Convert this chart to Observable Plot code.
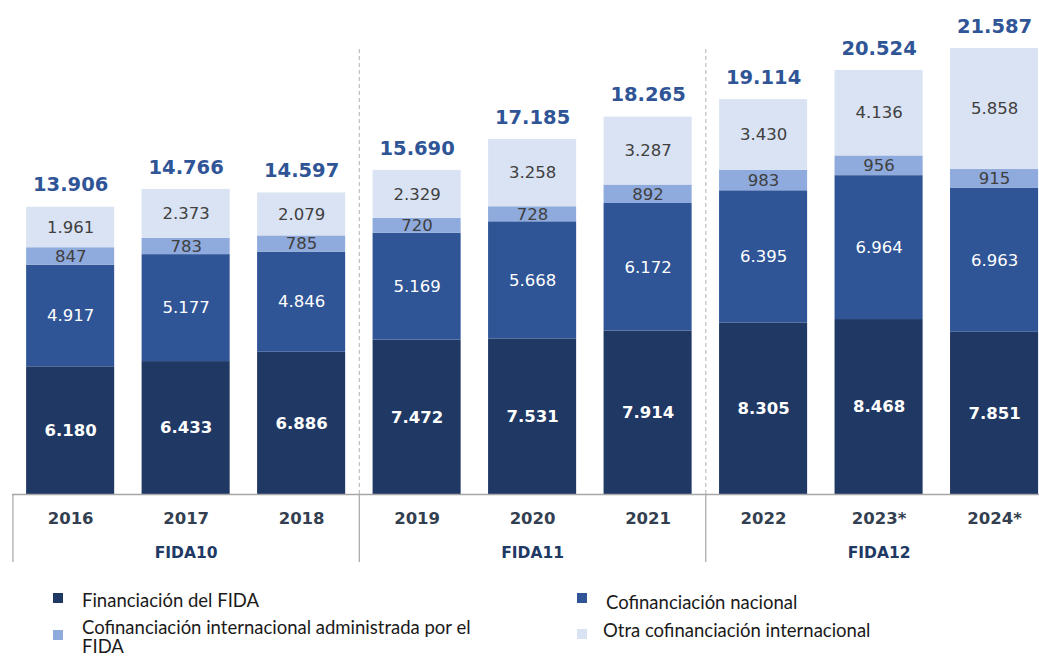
<!DOCTYPE html>
<html>
<head>
<meta charset="utf-8">
<script src="https://cdn.jsdelivr.net/npm/d3@7"></script>
<script src="https://cdn.jsdelivr.net/npm/@observablehq/plot@0.6"></script>
<style>
  html, body { margin: 0; padding: 0; background: #fff; }
  #chart svg { display: block; }
  .legend { position: relative; width: 1039px; height: 80px; font-family: Lato, "Open Sans", sans-serif; font-size: 18.5px; color: #1a1a1a; }
  .legend .sw { position: absolute; width: 10px; height: 10px; }
  .legend .lb { position: absolute; }
</style>
</head>
<body>
<div id="chart"></div>
<div class="legend" id="legend"></div>
<script>
const years = ["2016", "2017", "2018", "2019", "2020", "2021", "2022", "2023*", "2024*"];
const series = ["Financiación del FIDA", "Cofinanciación nacional", "Cofinanciación internacional administrada por el FIDA", "Otra cofinanciación internacional"];
const colors = ["#203864", "#2F5597", "#8FAADC", "#DAE3F3"];
const fidaValues = [6180, 6433, 6886, 7472, 7531, 7914, 8305, 8468, 7851];
const nacionalValues = [4917, 5177, 4846, 5169, 5668, 6172, 6395, 6964, 6963];
const intlAdminValues = [847, 783, 785, 720, 728, 892, 983, 956, 915];
const otraValues = [1961, 2373, 2079, 2329, 3258, 3287, 3430, 4136, 5858];
const totals = [13906, 14766, 14597, 15690, 17185, 18265, 19114, 20524, 21587];
const groups = ["FIDA10", "FIDA11", "FIDA12"];
const groupCenters = ["2017", "2020", "2023*"];
const groupEnds = ["2018", "2021"];

const allValues = [fidaValues, nacionalValues, intlAdminValues, otraValues];
const data = [];
series.forEach((s, si) => years.forEach((y, yi) => data.push({year: y, series: s, value: allValues[si][yi]})));
const totalData = years.map((y, i) => ({year: y, total: totals[i]}));
const groupData = groups.map((g, i) => ({group: g, year: groupCenters[i]}));

const fmt = n => n >= 1000 ? Math.floor(n / 1000) + "." + String(n % 1000).padStart(3, "0") : String(n);
const numFont = "DejaVu Sans, Verdana, sans-serif";
const yMax = d3.max(totals);
const below = -yMax * 68 / 446;

function segText(si, fill, weight) {
  return Plot.text(data, Plot.stackY({
    x: "year", y: "value", z: "series", order: series,
    text: d => d.series === series[si] ? fmt(d.value) : "",
    fill, fontWeight: weight, fontSize: 16.5, fontFamily: numFont
  }));
}

const chart = Plot.plot({
  width: 1039,
  height: 576,
  marginTop: 48,
  marginBottom: 82,
  marginLeft: 12,
  marginRight: 0,
  x: {domain: years, paddingInner: 0.2375, paddingOuter: 0.065, align: 0.94, round: false, axis: null},
  y: {domain: [0, yMax], axis: null},
  color: {domain: series, range: colors},
  marks: [
    Plot.ruleX(groupEnds, {x: d => d, y1: 0, y2: yMax, dx: 57.7, stroke: "#BFBFBF", strokeDasharray: "4,3", strokeWidth: 1.2}),
    Plot.barY(data, Plot.stackY({x: "year", y: "value", fill: "series", order: series})),
    Plot.ruleY([0], {stroke: "#A6A6A6", strokeWidth: 1.5}),
    Plot.ruleX(groupEnds, {x: d => d, y1: 0, y2: below, dx: 57.7, stroke: "#A6A6A6", strokeWidth: 1.2}),
    Plot.ruleX([years[0]], {x: d => d, y1: 0, y2: below, dx: -57.7, stroke: "#A6A6A6", strokeWidth: 1.2}),
    segText(0, "white", "bold"),
    segText(1, "white", "normal"),
    segText(2, "#404040", "normal"),
    segText(3, "#404040", "normal"),
    Plot.text(totalData, {x: "year", y: "total", text: d => fmt(d.total), dy: -22, fill: "#2F5597", fontWeight: "bold", fontSize: 19.5, fontFamily: numFont}),
    Plot.text(years, {x: d => d, y: 0, dy: 24, text: d => d, fill: "#333F50", fontWeight: "bold", fontSize: 16.5, fontFamily: numFont}),
    Plot.text(groupData, {x: "year", y: 0, dy: 59, text: "group", fill: "#203864", fontWeight: "bold", fontSize: 15.5, fontFamily: numFont})
  ]
});
document.getElementById("chart").appendChild(chart);

const legendItems = [
  {si: 0, sx: 53, sy: 17, tx: 82, ty: 13, w: 425, lh: 22},
  {si: 2, sx: 53, sy: 54, tx: 82, ty: 41.5, w: 425, lh: 19},
  {si: 1, sx: 577, sy: 17, tx: 606, ty: 15, w: 430, lh: 22},
  {si: 3, sx: 577, sy: 53, tx: 603, ty: 43, w: 430, lh: 22}
];
const leg = document.getElementById("legend");
legendItems.forEach(it => {
  const sw = document.createElement("div");
  sw.className = "sw";
  sw.style.left = it.sx + "px"; sw.style.top = it.sy + "px"; sw.style.background = colors[it.si];
  const lb = document.createElement("div");
  lb.className = "lb";
  lb.style.left = it.tx + "px"; lb.style.top = it.ty + "px"; lb.style.width = it.w + "px"; lb.style.lineHeight = it.lh + "px";
  lb.textContent = series[it.si];
  leg.appendChild(sw); leg.appendChild(lb);
});
</script>
</body>
</html>
